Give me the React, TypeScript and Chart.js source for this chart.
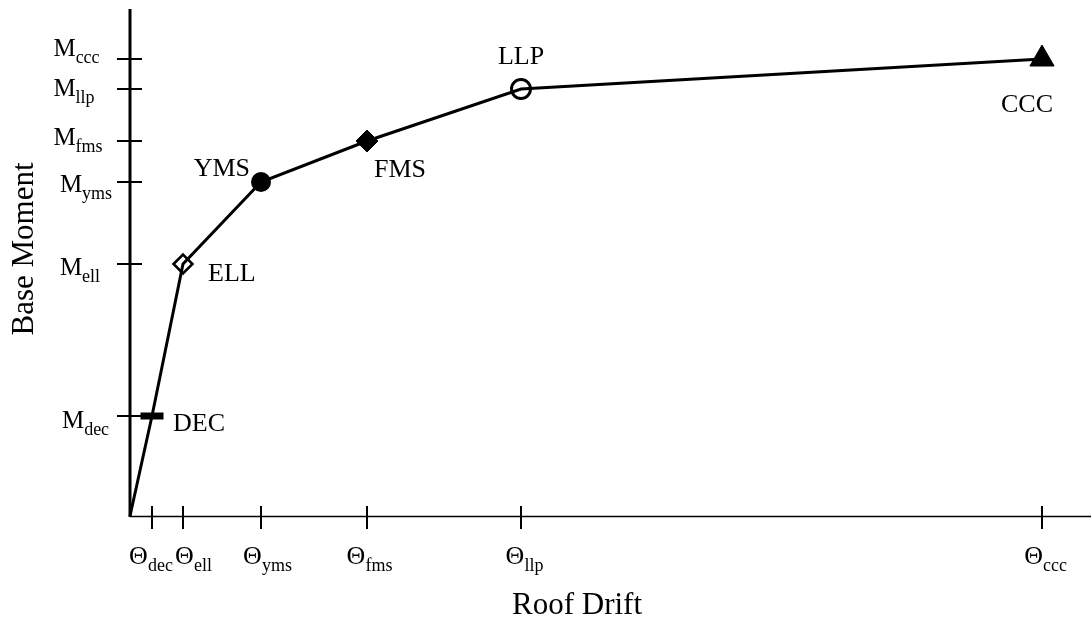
import React, { useEffect, useRef } from "react";
import { Chart, registerables } from "chart.js";

Chart.register(...registerables);

// ---- data (arbitrary units) ----
const drift = [0, 22, 53, 131, 237, 391, 912];
const moment = [0, 100, 252, 334, 375, 427, 457];
const pointNames = ["", "DEC", "ELL", "YMS", "FMS", "LLP", "CCC"];
const tickSubscripts = ["dec", "ell", "yms", "fms", "llp", "ccc"];
const xTickValues = drift.slice(1);
const yTickValues = moment.slice(1);
const xTitle = "Roof Drift";
const yTitle = "Base Moment";

// ---- styles / placement ----
const FONT = '"Liberation Serif", "Times New Roman", serif';
const pointStyles = ["circle", "line", "rectRot", "circle", "rectRot", "circle", "triangle"];
const pointRadii = [0, 11.5, 9.5, 10, 11, 9.5, 14];
const pointBorderWidths = [0, 7, 2.5, 0, 1, 3, 1];
const pointFills = ["#000", "#000", "rgba(0,0,0,0)", "#000", "#000", "rgba(0,0,0,0)", "#000"];
// label placement relative to point pixel: [dx, dy(baseline), align]
const labelPlacement: [number, number, CanvasTextAlign][] = [
  [0, 0, "left"],
  [21, 15, "left"],
  [25, 17, "left"],
  [-11, -6, "right"],
  [7, 36, "left"],
  [0, -25, "center"],
  [-15, 53, "center"],
];
// tick label nudges (center offset from axis / tick)
const xTickLabelShift = [-1, 10.5, 6.5, 2.5, 3.5, 3.5];
const yTickLabelCenter = [-44.5, -50, -44, -52, -56, -53.5];
const yTickLabelBaseline = [12, 11, 10, 4, 7, -3];

function drawSubLabel(
  ctx: CanvasRenderingContext2D,
  main: string,
  sub: string,
  cx: number,
  baseline: number,
  mainSize: number,
  subSize: number,
  subDrop: number
) {
  ctx.font = `${mainSize}px ${FONT}`;
  const wm = ctx.measureText(main).width;
  ctx.font = `${subSize}px ${FONT}`;
  const ws = ctx.measureText(sub).width;
  const start = cx - (wm + ws) / 2;
  ctx.textAlign = "left";
  ctx.textBaseline = "alphabetic";
  ctx.font = `${mainSize}px ${FONT}`;
  ctx.fillText(main, start, baseline);
  ctx.font = `${subSize}px ${FONT}`;
  ctx.fillText(sub, start + wm, baseline + subDrop);
}

const axesPlugin = {
  id: "customAxes",
  beforeDatasetsDraw(chart: any) {
    const { ctx, chartArea, scales } = chart;
    const xs = scales.x;
    const ys = scales.y;
    const x0 = xs.getPixelForValue(0);
    const y0 = ys.getPixelForValue(0);
    ctx.save();
    ctx.strokeStyle = "#000";
    // x axis
    ctx.lineWidth = 1.3;
    ctx.beginPath();
    ctx.moveTo(x0, y0 + 0.5);
    ctx.lineTo(chartArea.right, y0 + 0.5);
    ctx.stroke();
    // y axis
    ctx.lineWidth = 3;
    ctx.beginPath();
    ctx.moveTo(x0, chartArea.top);
    ctx.lineTo(x0, y0 + 1);
    ctx.stroke();
    // ticks crossing the axes
    ctx.lineWidth = 2;
    yTickValues.forEach((v) => {
      const py = ys.getPixelForValue(v);
      ctx.beginPath();
      ctx.moveTo(x0 - 13, py);
      ctx.lineTo(x0 + 12, py);
      ctx.stroke();
    });
    xTickValues.forEach((v) => {
      const px = xs.getPixelForValue(v);
      ctx.beginPath();
      ctx.moveTo(px, y0 - 10);
      ctx.lineTo(px, y0 + 13);
      ctx.stroke();
    });
    ctx.restore();
  },
  afterDatasetsDraw(chart: any) {
    const { ctx, scales } = chart;
    const xs = scales.x;
    const ys = scales.y;
    const x0 = xs.getPixelForValue(0);
    const y0 = ys.getPixelForValue(0);
    ctx.save();
    ctx.fillStyle = "#000";
    // y tick labels
    yTickValues.forEach((v, i) => {
      const py = ys.getPixelForValue(v);
      drawSubLabel(ctx, "M", tickSubscripts[i], x0 + yTickLabelCenter[i], py + yTickLabelBaseline[i], 25, 18, 7);
    });
    // x tick labels
    xTickValues.forEach((v, i) => {
      const px = xs.getPixelForValue(v);
      drawSubLabel(ctx, "\u0398", tickSubscripts[i], px + xTickLabelShift[i], y0 + 48, 26, 18, 7);
    });
    // point labels
    ctx.font = `26px ${FONT}`;
    ctx.textBaseline = "alphabetic";
    pointNames.forEach((name, i) => {
      if (!name) return;
      const px = xs.getPixelForValue(drift[i]);
      const py = ys.getPixelForValue(moment[i]);
      const [dx, dy, align] = labelPlacement[i];
      ctx.textAlign = align;
      ctx.fillText(name, px + dx, py + dy);
    });
    // axis titles
    ctx.font = `31px ${FONT}`;
    ctx.textAlign = "center";
    ctx.fillText(xTitle, x0 + 447, y0 + 98);
    ctx.save();
    ctx.translate(33, 249);
    ctx.rotate(-Math.PI / 2);
    ctx.fillText(yTitle, 0, 0);
    ctx.restore();
    ctx.restore();
  },
};

export default function App() {
  const canvasRef = useRef<HTMLCanvasElement | null>(null);

  useEffect(() => {
    if (!canvasRef.current) return;
    const chart = new Chart(canvasRef.current, {
      type: "scatter",
      data: {
        datasets: [
          {
            data: drift.map((d, i) => ({ x: d, y: moment[i] })),
            showLine: true,
            borderColor: "#000",
            borderWidth: 3,
            pointStyle: pointStyles as any,
            pointRadius: pointRadii,
            pointHoverRadius: pointRadii,
            pointBorderWidth: pointBorderWidths,
            pointBorderColor: "#000",
            pointBackgroundColor: pointFills,
            clip: false as any,
          },
        ],
      },
      options: {
        animation: false,
        responsive: false,
        devicePixelRatio: 1,
        layout: { autoPadding: false, padding: { left: 130, top: 9, right: 0, bottom: 104 } },
        plugins: { legend: { display: false }, tooltip: { enabled: false } },
        scales: {
          x: { type: "linear", min: 0, max: 961, display: false },
          y: { type: "linear", min: 0, max: 507, display: false },
        },
      },
      plugins: [axesPlugin],
    });
    return () => chart.destroy();
  }, []);

  return (
    <div style={{ position: "absolute", left: 0, top: 0, width: 1091, height: 620, background: "#fff" }}>
      <canvas ref={canvasRef} width={1091} height={620} />
    </div>
  );
}
